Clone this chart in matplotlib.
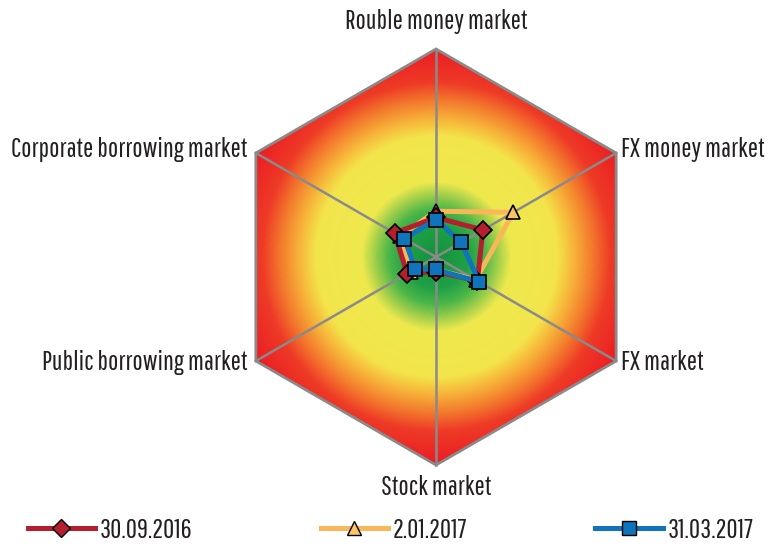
import matplotlib
matplotlib.use("Agg")
import matplotlib.pyplot as plt
import numpy as np
from matplotlib.colors import LinearSegmentedColormap
from matplotlib.patches import Polygon
from matplotlib.lines import Line2D

# axes, clockwise from the top
axes_names = ["Rouble money market", "FX money market", "FX market",
              "Stock market", "Public borrowing market", "Corporate borrowing market"]

# values as share of the outer hexagon radius
s_2016_09 = [0.19, 0.26, 0.23, 0.07, 0.16, 0.23]
s_2017_01 = [0.22, 0.43, 0.22, 0.06, 0.14, 0.20]
s_2017_03 = [0.18, 0.14, 0.24, 0.06, 0.115, 0.175]
series_names = ["30.09.2016", "2.01.2017", "31.03.2017"]

plt.rcParams['font.family'] = ['Pathway Gothic One', 'Barlow Condensed', 'DejaVu Sans']
txt_col = '#231f20'
fs = 19.5

fig = plt.figure(figsize=(7.73, 5.48), dpi=100)
ax = fig.add_axes([0, 0, 1, 1])
R = 208.0
# centre of the hexagon at pixel (436, 257), radius 208 px
ax.set_xlim(-436 / R, (773 - 436) / R)
ax.set_ylim(-(548 - 257) / R, 257 / R)
ax.set_aspect('equal')
ax.axis('off')

ang = np.arange(6) * np.pi / 3
vx = np.sin(ang)
vy = np.cos(ang)

# radial gradient background clipped to the hexagon
cmap = LinearSegmentedColormap.from_list("risk", [
    (0.00, '#14923d'), (0.15, '#1fa046'), (0.23, '#4cb748'), (0.30, '#a6d04b'),
    (0.36, '#eee94e'), (0.58, '#f3e54b'), (0.66, '#f7b53a'), (0.75, '#f37b2d'),
    (0.84, '#ee3b26'), (1.00, '#ec1c24')])
g = np.linspace(-1.05, 1.05, 500)
gx, gy = np.meshgrid(g, g)
rr = np.clip(np.hypot(gx, gy), 0, 1)
im = ax.imshow(rr, cmap=cmap, vmin=0, vmax=1, extent=(-1.05, 1.05, -1.05, 1.05),
               origin='lower', interpolation='bilinear', zorder=0)
hexagon = Polygon(np.column_stack([vx, vy]), closed=True, facecolor='none',
                  edgecolor='#8a8a8a', lw=2, zorder=2)
ax.add_patch(hexagon)
im.set_clip_path(hexagon)

for x, y in zip(vx, vy):
    ax.plot([0, x], [0, y], color='#8a8a8a', lw=1.8, zorder=1)

def draw(vals, color, marker, mfc, ms, z):
    v = np.array(vals + vals[:1])
    a = np.append(ang, ang[0])
    ax.plot(v * np.sin(a), v * np.cos(a), color=color, lw=3.6, zorder=z)
    ax.plot(v[:-1] * np.sin(ang), v[:-1] * np.cos(ang), ls='none', marker=marker,
            ms=ms, mfc=mfc, mec='black', mew=1.2, zorder=z + 0.5)

draw(s_2017_01, '#f9b759', '^', '#f9c465', 10, 3)
draw(s_2016_09, '#b31f2e', 'D', '#b31f2e', 9, 4)
draw(s_2017_03, '#0f74bb', 's', '#0f74bb', 10, 5)

# axis labels
ax.text(0, 1.13, axes_names[0], ha='center', va='center', fontsize=fs, color=txt_col)
ax.text(0.89, 0.515, axes_names[1], ha='left', va='center', fontsize=fs, color=txt_col)
ax.text(0.89, -0.505, axes_names[2], ha='left', va='center', fontsize=fs, color=txt_col)
ax.text(0, -1.11, axes_names[3], ha='center', va='center', fontsize=fs, color=txt_col)
ax.text(-0.905, -0.505, axes_names[4], ha='right', va='center', fontsize=fs, color=txt_col)
ax.text(-0.905, 0.515, axes_names[5], ha='right', va='center', fontsize=fs, color=txt_col)

handles = [
    Line2D([], [], color='#b31f2e', lw=3.6, marker='D', ms=9, mfc='#b31f2e', mec='black'),
    Line2D([], [], color='#f9b759', lw=3.6, marker='^', ms=10, mfc='#f9c465', mec='black'),
    Line2D([], [], color='#0f74bb', lw=3.6, marker='s', ms=10, mfc='#0f74bb', mec='black'),
]
leg = fig.legend(handles, series_names, loc='center', bbox_to_anchor=(0.505, 18 / 548),
                 ncol=3, frameon=False, fontsize=fs, handlelength=2.5,
                 handletextpad=0.15, columnspacing=4.75, borderpad=0)
for t in leg.get_texts():
    t.set_color(txt_col)

fig.savefig("out.png", dpi=100)
